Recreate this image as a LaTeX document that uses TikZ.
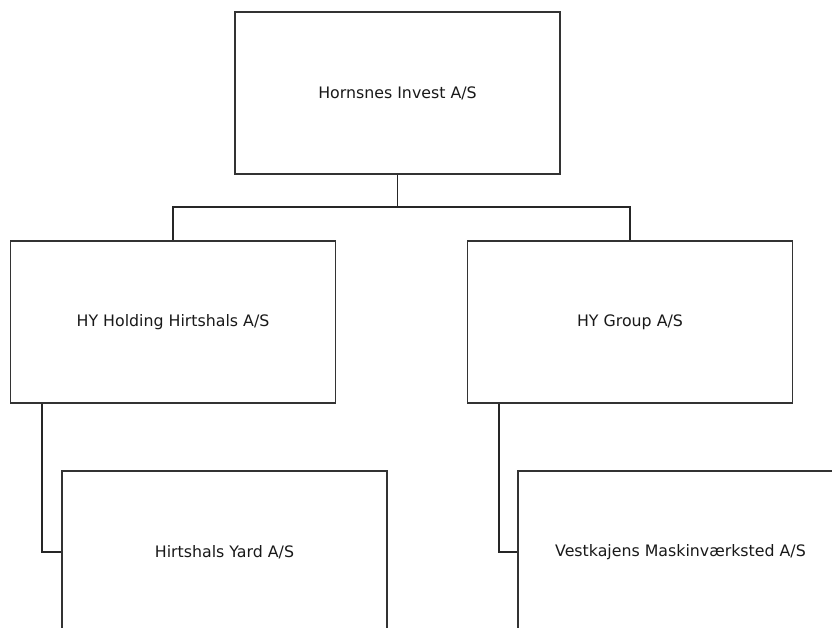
\documentclass[tikz,border=0pt]{standalone}
\usepackage{fontspec}
\setmainfont{DejaVu Sans}
\usepackage{tikz}

\begin{document}
\begin{tikzpicture}[x=1pt,y=-1pt,
    company/.style={draw=black!80,line width=1.4pt,rectangle,
      minimum width=325pt,minimum height=162pt,inner sep=0pt,
      font=\fontsize{15.8pt}{19pt}\selectfont,text=black!90},
    link/.style={draw=black!85,line width=1.4pt}]
\clip (0,0) rectangle (832,628);
\node[company] (hornsnes) at (397.5,93) {Hornsnes Invest A/S};
\node[company] (hyholding) at (173,322) {HY Holding Hirtshals A/S};
\node[company] (hygroup) at (630,322) {HY Group A/S};
\node[company] (yard) at (224.5,552) {Hirtshals Yard A/S};
\node[company] (vestkajen) at (680.5,552) {Vestkajens Maskinværksted A/S};
\coordinate (bus) at (397.5,207);
\draw[link] (hornsnes.south) -- (bus);
\draw[link] (bus) -| (hyholding.north);
\draw[link] (bus) -| (hygroup.north);
\draw[link] ([xshift=32pt]hyholding.south west) |- (yard.west);
\draw[link] ([xshift=32pt]hygroup.south west) |- (vestkajen.west);
\end{tikzpicture}
\end{document}
